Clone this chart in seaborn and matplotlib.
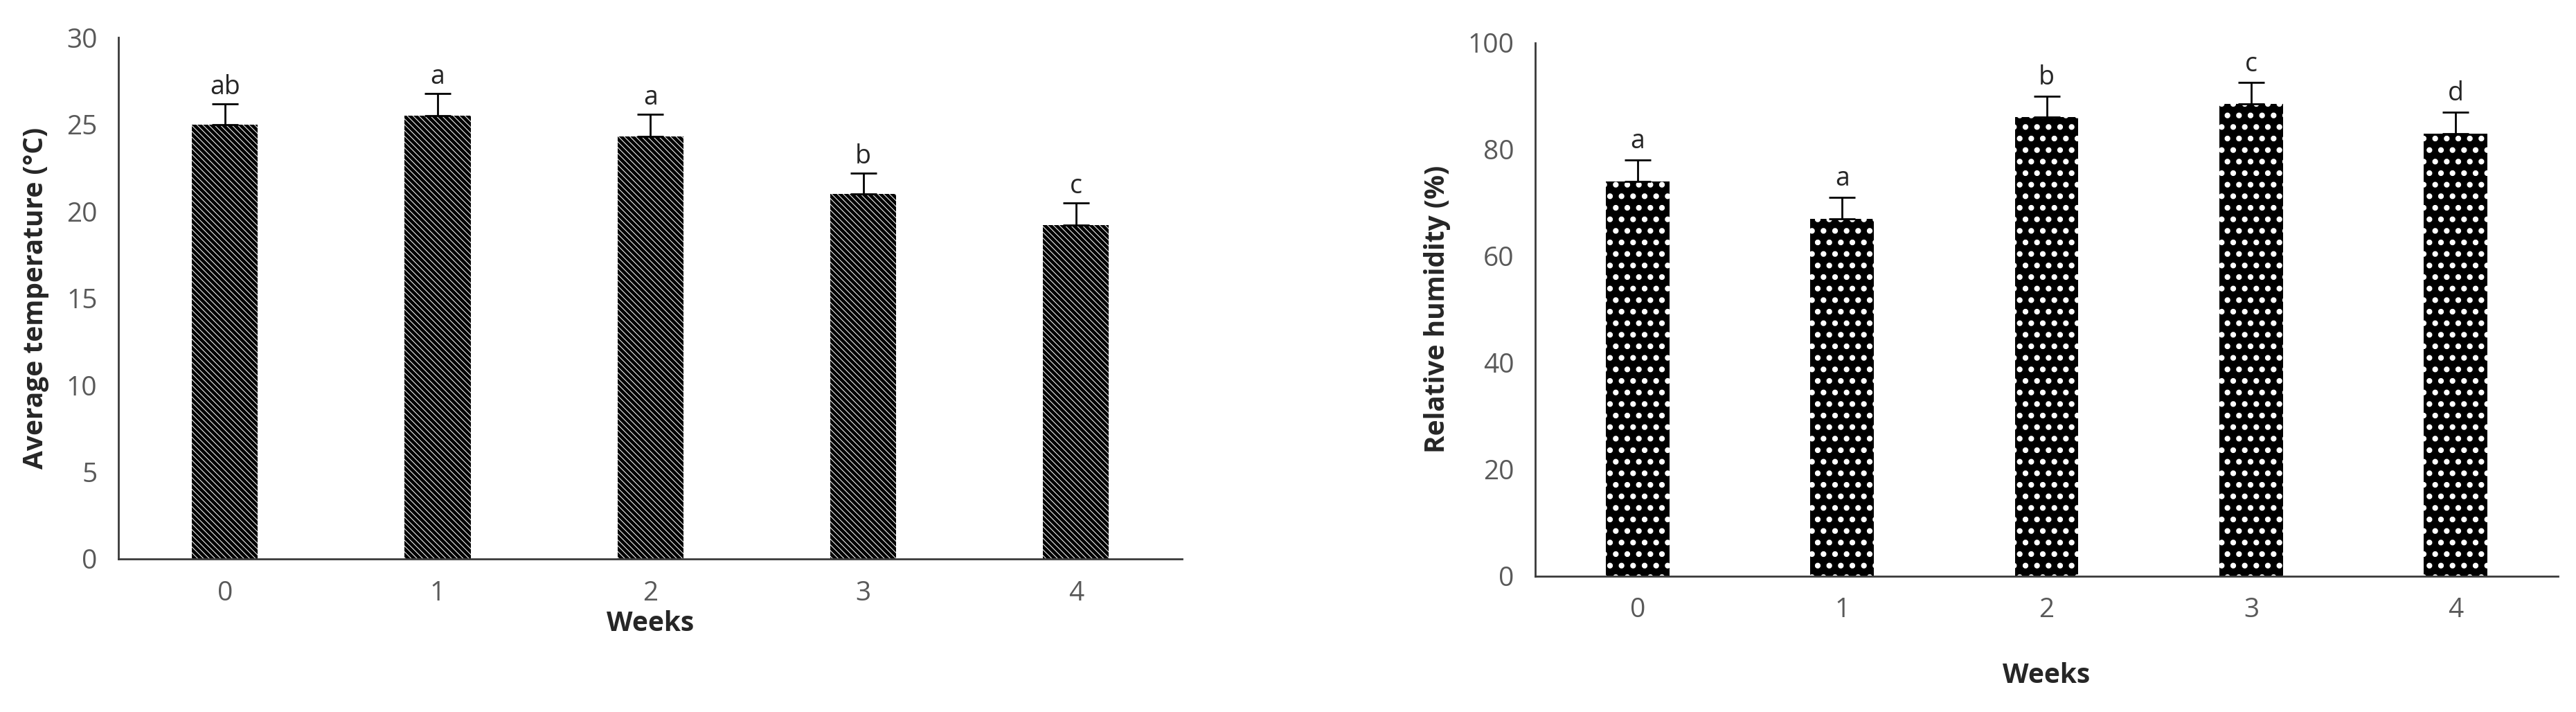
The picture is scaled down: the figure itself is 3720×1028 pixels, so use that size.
import numpy as np
import pandas as pd
import seaborn as sns
import matplotlib.pyplot as plt

sns.set_style('white')
plt.rcParams['font.family'] = ['Open Sans', 'DejaVu Sans']
plt.rcParams['hatch.linewidth'] = 3.5

# Data
weeks = ['0', '1', '2', '3', '4']
temp_mean = [25.0, 25.5, 24.3, 21.0, 19.2]
temp_err = [1.2, 1.3, 1.3, 1.2, 1.3]
temp_letters = ['ab', 'a', 'a', 'b', 'c']
rh_mean = [74.0, 67.0, 86.0, 88.5, 83.0]
rh_err = [4.0, 4.0, 4.0, 4.0, 4.0]
rh_letters = ['a', 'a', 'b', 'c', 'd']

fig = plt.figure(figsize=(37.2, 10.28), dpi=100)
ax1 = fig.add_axes([0.046, 0.215, 0.413, 0.732])
ax2 = fig.add_axes([0.596, 0.191, 0.397, 0.749])

grey = '#595959'


def panel(ax, means, errs, letters, ylim, step, ylabel, hatch, face, hcolor, pad):
    df = pd.DataFrame({'week': weeks, 'value': means})
    sns.barplot(data=df, x='week', y='value', ax=ax, width=0.31,
                color=face, saturation=1, errorbar=None)
    for p in ax.patches:
        p.set_hatch(hatch)
        p.set_edgecolor(hcolor)
        p.set_linewidth(0)
    ax.errorbar(range(len(means)), means, yerr=[[0] * len(means), errs],
                fmt='none', ecolor='black', elinewidth=2, capsize=14, capthick=2)
    for i, (m, e, t) in enumerate(zip(means, errs, letters)):
        ax.text(i, m + e + pad, t, ha='center', va='bottom', fontsize=27)
    ax.set_xlim(-0.5, 4.5)
    ax.set_ylim(*ylim)
    ax.set_yticks(np.arange(ylim[0], ylim[1] + 0.1, step))
    ax.set_ylabel(ylabel, fontsize=28, fontweight='bold', labelpad=18)
    ax.set_xlabel('Weeks', fontsize=28, fontweight='bold')
    ax.tick_params(axis='both', labelsize=28, colors=grey, length=0, pad=22)
    for s in ['top', 'right']:
        ax.spines[s].set_visible(False)
    for s in ['left', 'bottom']:
        ax.spines[s].set_color('#3a3a3a')
        ax.spines[s].set_linewidth(2)


panel(ax1, temp_mean, temp_err, temp_letters, (0, 30), 5,
      'Average temperature (°C)', '\\\\\\\\', 'white', 'black', 0.2)
panel(ax2, rh_mean, rh_err, rh_letters, (0, 100), 20,
      'Relative humidity (%)', '.', 'black', 'white', 1.0)
ax2.xaxis.labelpad = 40

fig.savefig('out.png', dpi=100)
